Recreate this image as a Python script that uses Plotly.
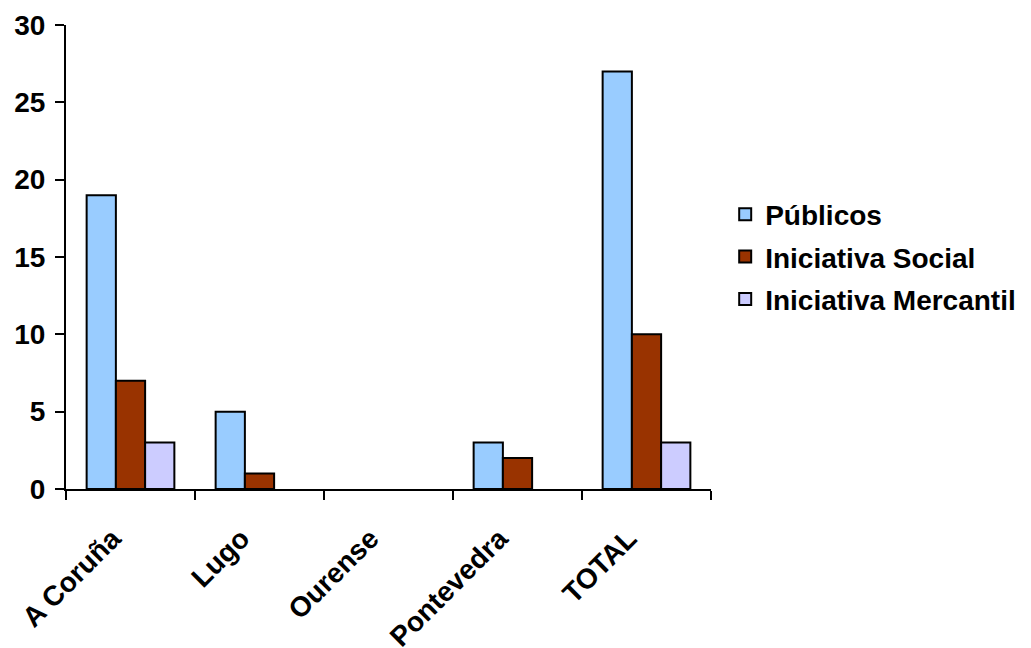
import plotly.graph_objects as go

categories = ["A Coruña", "Lugo", "Ourense", "Pontevedra", "TOTAL"]
publicos = [19, 5, 0, 3, 27]
social = [7, 1, 0, 2, 10]
mercantil = [3, 0, 0, 0, 3]
y_ticks = [0, 5, 10, 15, 20, 25, 30]

series = [
    ("Públicos", publicos, "#99CCFF"),
    ("Iniciativa Social", social, "#993300"),
    ("Iniciativa Mercantil", mercantil, "#CCCCFF"),
]

FONT = "Liberation Sans, Arial, sans-serif"

fig = go.Figure()
for i, (name, vals, color) in enumerate(series):
    # zero-valued bars are not drawn (no outline on the axis)
    shown = [v if v else None for v in vals]
    fig.add_trace(go.Bar(
        x=categories, y=shown, name=name, legendgroup=f"g{i}",
        marker=dict(color=color, line=dict(color="black", width=2)),
    ))

# page body has an 8px default margin, so the figure is sized to fit the window
fig.update_layout(
    width=1023, height=640,
    paper_bgcolor="white", plot_bgcolor="white",
    margin=dict(l=58, r=320, t=17, b=159, autoexpand=False),
    barmode="group", bargap=0.32, bargroupgap=0,
    font=dict(family=FONT, color="black"),
    legend=dict(
        x=1.022, y=0.5, xanchor="left", yanchor="middle",
        font=dict(family=FONT, size=28, color="black", weight="bold"),
        traceorder="grouped", tracegroupgap=3,
        itemwidth=30, borderwidth=0,
    ),
    showlegend=True,
)
fig.update_xaxes(
    range=[-0.5, 4.5], showline=True, linecolor="black", linewidth=2,
    ticks="outside", tickson="boundaries", ticklen=9, tickwidth=2, tickcolor="black",
    tickangle=-45, showgrid=False, automargin=False,
    ticklabelstandoff=20, ticklabelshift=-18,
    tickfont=dict(family=FONT, size=28, color="black", weight="bold"),
)
fig.update_yaxes(
    range=[0, 30], tickvals=y_ticks, showline=True, linecolor="black", linewidth=2,
    ticks="outside", ticklen=9, tickwidth=2, tickcolor="black",
    showgrid=False, zeroline=False, ticklabelstandoff=4, automargin=False,
    tickfont=dict(family=FONT, size=28, color="black", weight="bold"),
)

fig.write_html("out.html")
